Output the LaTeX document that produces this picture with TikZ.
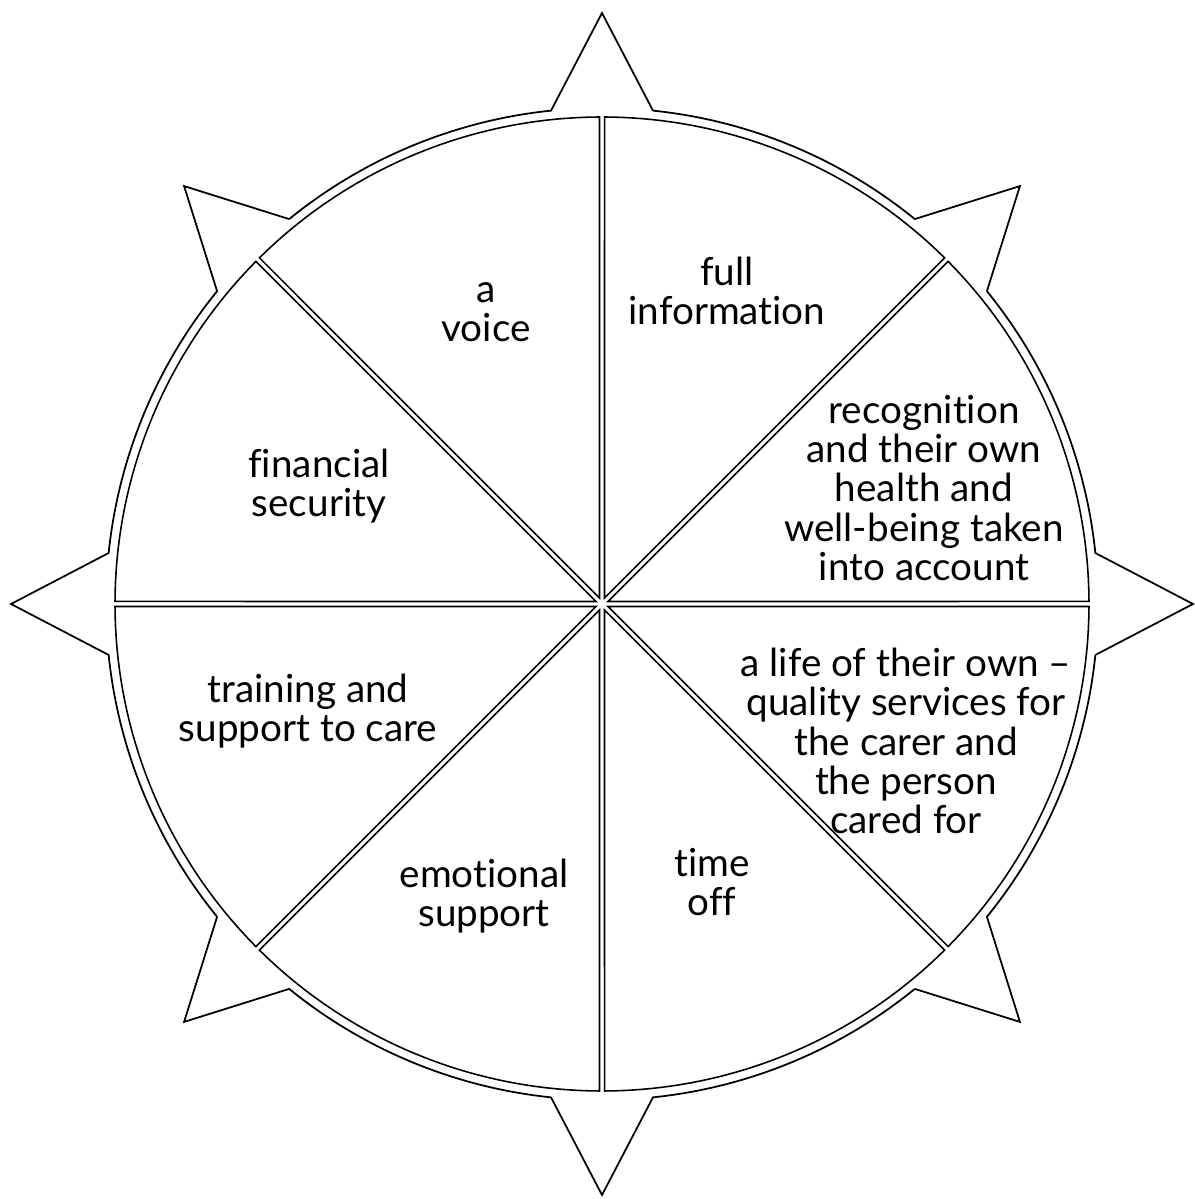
\documentclass[tikz,border=0pt]{standalone}
\usepackage{fontspec}
\setmainfont{Lato}[Ligatures={NoCommon}]
\usetikzlibrary{positioning}
\tikzset{rim/.style={draw,line width=0.5pt,line join=miter},
  sector/.style={draw,line width=0.45pt},
  lbl/.style={align=center,inner sep=0pt,font=\fontsize{11}{11.2}\selectfont}}

\begin{document}
\begin{tikzpicture}
        \useasboundingbox (-6.02,-5.95) rectangle (5.92,6.04);
        % rim with the eight points
        \foreach \a in {0,45,...,315}
            \draw[rim] (\a-5.9:4.96) -- (\a:5.91) -- (\a+5.9:4.96)
                arc[start angle=\a+5.9,end angle=\a+39.1,radius=4.96];
        % the eight sectors
        \foreach \a in {0,45,...,315}
            \draw[sector] (\a+22.5:0.065) -- (\a+0.3:4.87)
                arc[start angle=\a+0.3,end angle=\a+44.7,radius=4.87] -- cycle;

        \node[lbl] (voice) at (-1.16,2.92) {a\\voice};
        \node[lbl] (info) at (1.25,3.13) {full\\information};
        \node[lbl] (recog) at (3.22,1.16) {recognition\\and their own\\health and\\well-being taken\\into account};
        \node[lbl] (life) at (3.04,-1.37) {a life of their own --\\quality services for\\the carer and\\the person\\cared for};
        \node[lbl] (timeoff) at (1.10,-2.78) {time\\off};
        \node[lbl] (emot) at (-1.18,-2.92) {emotional\\support};
        \node[lbl] (train) at (-2.94,-1.07) {training and\\support to care};
        \node[lbl] (finance) at (-2.83,1.18) {financial\\security};
    \end{tikzpicture}
\end{document}
